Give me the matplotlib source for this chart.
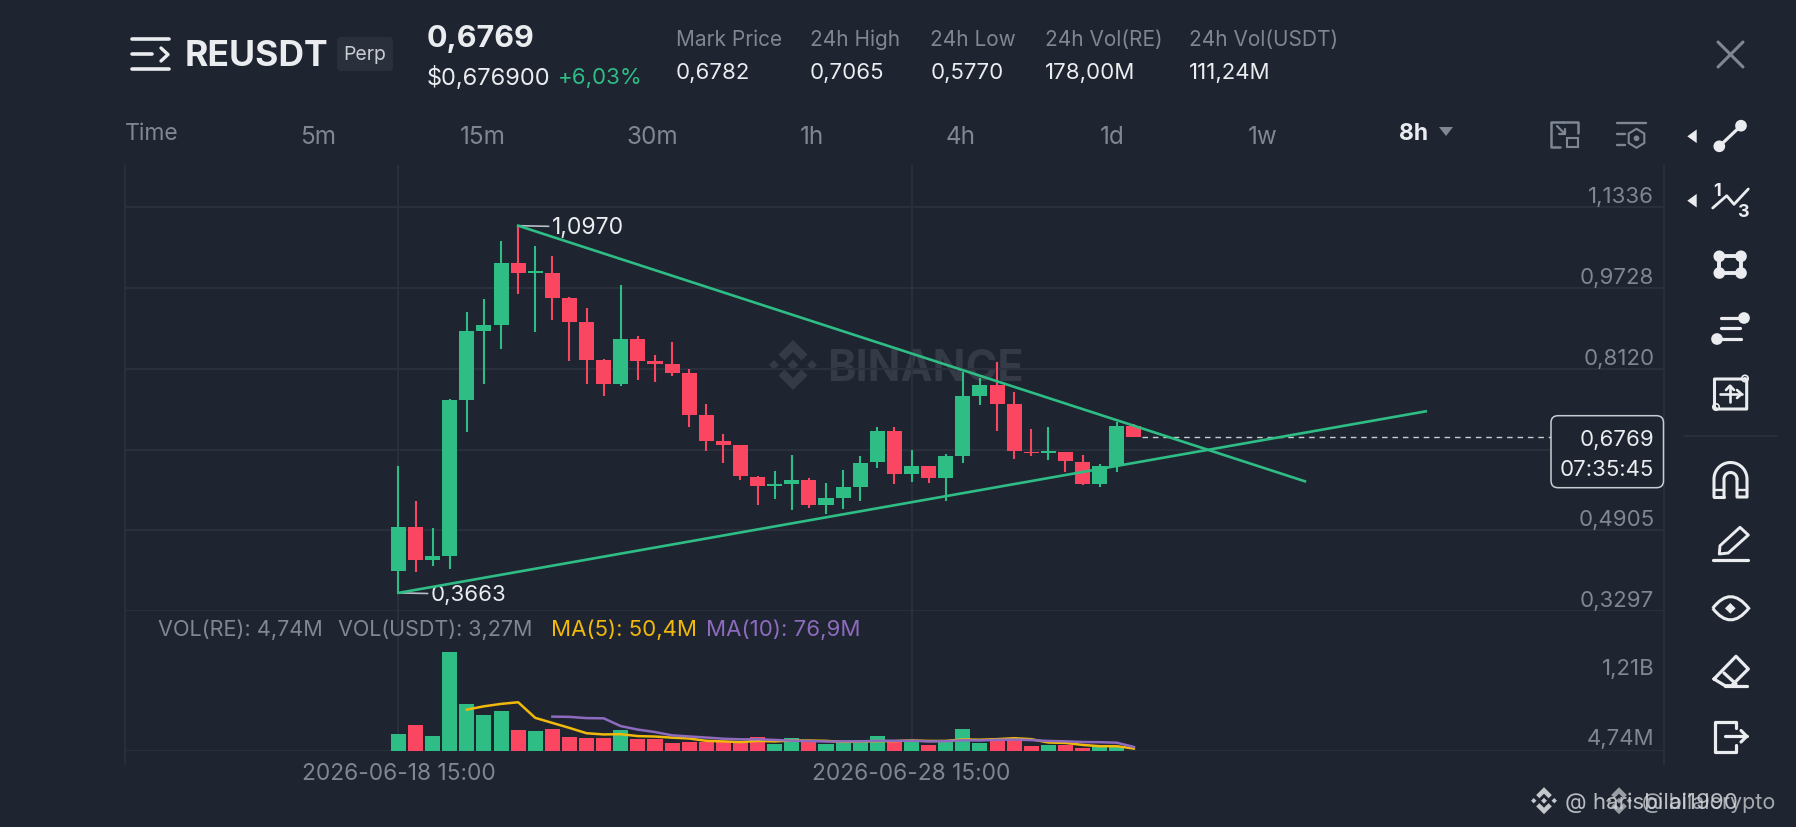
import numpy as np
import matplotlib
matplotlib.use('Agg')
import matplotlib.pyplot as plt
from matplotlib.patches import Circle, FancyBboxPatch, Polygon, Rectangle, PathPatch
from matplotlib.path import Path

plt.rcParams['font.family'] = ['Inter', 'DejaVu Sans']

# candles, 8h
opens = [0.4103, 0.4971, 0.4322, 0.4401, 0.7511, 0.8883, 0.8989, 1.0229, 1.0024, 1.0024, 0.9540,
         0.9049, 0.8300, 0.7816, 0.8711, 0.8273, 0.8220, 0.8041, 0.7212, 0.6682, 0.6602, 0.5979,
         0.5794, 0.5833, 0.5919, 0.5415, 0.5554, 0.5780, 0.6264, 0.6887, 0.6038, 0.6198, 0.5946,
         0.6396, 0.7590, 0.7795, 0.7418, 0.6476, 0.6450, 0.6469, 0.6277, 0.5826, 0.6191, 0.6993]
closes = [0.4971, 0.4322, 0.4395, 0.7511, 0.8883, 0.8989, 1.0229, 1.0024, 1.0063, 0.9540, 0.9049,
          0.8306, 0.7816, 0.8711, 0.8273, 0.8220, 0.8041, 0.7212, 0.6689, 0.6609, 0.5986, 0.5794,
          0.5833, 0.5919, 0.5415, 0.5548, 0.5773, 0.6257, 0.6887, 0.6032, 0.6198, 0.5946, 0.6390,
          0.7590, 0.7795, 0.7424, 0.6489, 0.6443, 0.6489, 0.6284, 0.5826, 0.6191, 0.6993, 0.6769]
highs = [0.6185, 0.5482, 0.4952, 0.7520, 0.9248, 0.9513, 1.0673, 1.0970, 1.0574, 1.0375, 0.9546,
         0.9327, 0.8313, 0.9791, 0.8770, 0.8399, 0.8664, 0.8127, 0.7431, 0.6828, 0.6609, 0.5986,
         0.6092, 0.6410, 0.5946, 0.5859, 0.6111, 0.6390, 0.6960, 0.6960, 0.6516, 0.6198, 0.6430,
         0.8067, 0.7935, 0.8266, 0.7669, 0.6927, 0.6960, 0.6469, 0.6416, 0.6224, 0.7073, 0.7033]
lows = [0.3663, 0.4076, 0.4189, 0.4129, 0.6861, 0.7816, 0.8518, 0.9619, 0.8850, 0.9102, 0.8273,
        0.7816, 0.7590, 0.7776, 0.7895, 0.7855, 0.7975, 0.6960, 0.6496, 0.6251, 0.5913, 0.5422,
        0.5535, 0.5322, 0.5349, 0.5236, 0.5336, 0.5482, 0.6151, 0.5833, 0.5879, 0.5846, 0.5482,
        0.6251, 0.7404, 0.6894, 0.6337, 0.6383, 0.6317, 0.6078, 0.5813, 0.5773, 0.6065, 0.6769]

# volume in millions
volumes = [289, 451, 256, 1673, 803, 619, 686, 356, 345, 373, 250, 234, 234, 362, 217, 211, 139, 167,
           167, 167, 155, 239, 128, 234, 167, 128, 155, 167, 256, 167, 183, 116, 167, 384, 139, 234,
           195, 88, 105, 105, 66, 88, 88, 4.74]
ma5 = [703, 758, 798, 826, 564, 480, 396, 307, 287, 291, 259, 252, 233, 219, 180, 170, 159, 179, 171,
       185, 185, 179, 162, 170, 175, 175, 186, 178, 178, 203, 198, 208, 224, 208, 152, 145, 112, 90,
       90, 50.4]
ma10 = [585, 581, 560, 557, 426, 368, 327, 272, 253, 235, 215, 205, 206, 195, 182, 177, 169, 171, 171,
        180, 180, 182, 170, 174, 189, 186, 197, 201, 193, 178, 172, 160, 157, 149, 76.9]

price_ticks = [1.1336, 0.9728, 0.8120, 0.6512, 0.4905, 0.3297]
price_labels = ['1,1336', '0,9728', '0,8120', '', '0,4905', '0,3297']
last_price = 0.6769
date_ticks = [0, 30]
date_labels = ['2026-06-18 15:00', '2026-06-28 15:00']

# trendlines: (candle, price)
falling = ([7, 53.0], [1.0970, 0.5884])
rising = ([0, 60.07], [0.3663, 0.7276])

BG = '#1E2530'
GRID = '#2B323E'
UP = '#2EBD85'
DOWN = '#FB4661'
GRAY = '#7F8794'
WHITE = '#EAECEF'
YELLOW = '#F0B90B'
PURPLE = '#8E6BBF'

W, H = 1796, 828
fig = plt.figure(figsize=(W / 100, H / 100), dpi=100, facecolor=BG)


def rect(left, top, right, bottom):
    return [left / W, 1 - bottom / H, (right - left) / W, (bottom - top) / H]


def pixel_axes(z):
    a = fig.add_axes([0, 0, 1, 1], zorder=z)
    a.set_xlim(0, W)
    a.set_ylim(H, 0)
    a.axis('off')
    return a


back = pixel_axes(0)
ax = fig.add_axes(rect(125, 166, 1664, 612.3), zorder=1, facecolor='none')
vol = fig.add_axes(rect(125, 612.3, 1664, 752.3), zorder=1, facecolor='none')
ui = pixel_axes(3)


def line(a, xs, ys, color=WHITE, lw=2.3, **kw):
    a.plot(xs, ys, color=color, lw=lw, solid_capstyle='round', solid_joinstyle='round', **kw)


def dot(a, x, y, r=5.0, color=WHITE, fill=True):
    a.add_patch(Circle((x, y), r, facecolor=color if fill else BG, edgecolor=color, lw=1.2))


def binance_logo(a, cx, cy, R, color):
    top = [(0, -1), (.58, -.42), (.34, -.18), (0, -.52), (-.34, -.18), (-.58, -.42)]
    for sign in (1, -1):
        a.add_patch(Polygon([(cx + p * R, cy + sign * q * R) for p, q in top], color=color, lw=0))
    for dx, r in ((0, .22), (-.76, .2), (.76, .2)):
        a.add_patch(Polygon([(cx + (dx - r) * R, cy), (cx + dx * R, cy - r * R),
                             (cx + (dx + r) * R, cy), (cx + dx * R, cy + r * R)], color=color, lw=0))


# watermark sits under the candles
binance_logo(back, 793, 366, 25, '#343B47')
back.text(925, 370, 'BINANCE', color='#343B47', fontsize=31, fontweight='bold', ha='center', va='center')

# price panel
x = np.arange(len(opens))
for i in x:
    c = UP if closes[i] >= opens[i] else DOWN
    ax.vlines(i, lows[i], highs[i], color=c, lw=1.5, zorder=3)
    ax.bar(i, abs(closes[i] - opens[i]), bottom=min(opens[i], closes[i]), width=0.88, color=c, zorder=3)
ax.plot(*falling, color=UP, lw=1.9, zorder=4)
ax.plot(*rising, color=UP, lw=1.9, zorder=4)
ax.plot([43.45, 67.65], [last_price, last_price], color='#C9CDD3', lw=1.0, dashes=(4, 3.5), zorder=3)

ax.annotate('1,0970', xy=(7, 1.0970), xytext=(24, -1), textcoords='offset points', color=WHITE, fontsize=16.5,
            va='center', arrowprops=dict(arrowstyle='-', color='#B7BDC6', lw=1.2, shrinkA=0, shrinkB=0))
ax.annotate('0,3663', xy=(0, 0.3663), xytext=(23, -1), textcoords='offset points', color=WHITE, fontsize=16,
            va='center', arrowprops=dict(arrowstyle='-', color='#B7BDC6', lw=1.2, shrinkA=0, shrinkB=0))

ax.set_xlim(-15.99, 74.0)
ax.set_ylim(0.3297, 1.2178)
ax.set_yticks(price_ticks)
ax.set_yticklabels([])
ax.set_xticks(date_ticks)
ax.set_xticklabels([])
ax.grid(True, color=GRID, lw=1.3)
ax.tick_params(length=0)
for s in ax.spines.values():
    s.set_visible(False)
for val, lab in zip(price_ticks, price_labels):
    ax.annotate(lab, xy=(1, val), xycoords=ax.get_yaxis_transform(), xytext=(-7, 8), textcoords='offset points',
                color=GRAY, fontsize=16, ha='right', va='center')

# volume panel
for i in x:
    c = UP if closes[i] >= opens[i] else DOWN
    vol.bar(i, volumes[i] - 4.74, bottom=4.74, width=0.88, color=c, zorder=3)
vol.plot(x[4:], ma5, color=YELLOW, lw=1.8, zorder=4)
vol.plot(x[9:], ma10, color=PURPLE, lw=1.8, zorder=5)
vol.set_xlim(-15.99, 74.0)
vol.set_ylim(4.74, 2348)
vol.set_xticks(date_ticks)
vol.set_xticklabels(date_labels, color=GRAY, fontsize=16.3)
vol.set_yticks([4.74])
vol.set_yticklabels([])
vol.grid(True, color=GRID, lw=1.3)
vol.tick_params(length=0, pad=8)
for s in vol.spines.values():
    s.set_visible(False)

# frame lines either side of the panels
line(back, [125, 125], [166, 765], color=GRID, lw=1.2)
line(back, [1664, 1664], [166, 765], color=GRID, lw=1.2)

ui.text(158, 630, 'VOL(RE): 4,74M', color=GRAY, fontsize=15.6, va='center')
ui.text(338, 630, 'VOL(USDT): 3,27M', color=GRAY, fontsize=15.5, va='center')
ui.text(551, 630, 'MA(5): 50,4M', color=YELLOW, fontsize=16, va='center')
ui.text(706, 630, 'MA(10): 76,9M', color=PURPLE, fontsize=16, va='center')
ui.text(1654.5, 669.5, '1,21B', color=GRAY, fontsize=16, ha='right', va='center')
ui.text(1654.5, 739.5, '4,74M', color=GRAY, fontsize=16, ha='right', va='center')

# last price tag
ui.add_patch(FancyBboxPatch((1557, 422.7), 100.5, 60, boxstyle='round,pad=6,rounding_size=7', facecolor=BG,
                            edgecolor='#C9CDD3', lw=1.1))
ui.text(1654, 440, '0,6769', color=WHITE, fontsize=16, ha='right', va='center')
ui.text(1654, 470, '07:35:45', color=WHITE, fontsize=16, ha='right', va='center')

# header
for yy, x1 in ((40, 169), (55, 152), (70, 169)):
    line(ui, [132, x1], [yy, yy], lw=2.6)
line(ui, [161, 168, 161], [49, 55.5, 62], lw=2.4)
ui.text(185, 56, 'REUSDT', color=WHITE, fontsize=25.6, fontweight='bold', va='center')
ui.add_patch(FancyBboxPatch((340, 41), 50, 28, boxstyle='round,pad=3,rounding_size=4', facecolor='#2A303B', lw=0))
ui.text(365, 55, 'Perp', color='#C9CDD3', fontsize=14, ha='center', va='center')
ui.text(427, 39, '0,6769', color=WHITE, fontsize=22, fontweight='bold', va='center')
ui.text(427, 78, '$0,676900', color=WHITE, fontsize=17, va='center')
ui.text(558, 78, '+6,03%', color=UP, fontsize=16, va='center')

stat_x = [675.5, 810, 930.5, 1045, 1189]
stat_names = ['Mark Price', '24h High', '24h Low', '24h Vol(RE)', '24h Vol(USDT)']
stat_values = ['0,6782', '0,7065', '0,5770', '178,00M', '111,24M']
for sx, n, v in zip(stat_x, stat_names, stat_values):
    ui.text(sx, 40, n, color=GRAY, fontsize=15, va='center')
    ui.text(sx, 73, v, color=WHITE, fontsize=16, va='center')

ui.text(125, 134, 'Time', color=GRAY, fontsize=16.5, va='center')
for tx, t in zip([318, 482.5, 652.5, 812, 961, 1112, 1263], ['5m', '15m', '30m', '1h', '4h', '1d', '1w']):
    ui.text(tx, 137, t, color=GRAY, fontsize=17.5, ha='center', va='center')
ui.text(1414, 134.5, '8h', color=WHITE, fontsize=16.5, fontweight='bold', ha='center', va='center')
ui.add_patch(Polygon([(1439, 128), (1453, 128), (1446, 137)], color=GRAY, lw=0))

# close button
line(ui, [1718, 1743], [43, 68], color=GRAY, lw=2.2)
line(ui, [1743, 1718], [43, 68], color=GRAY, lw=2.2)

# two small toolbar icons
line(ui, [1563, 1551, 1551, 1560], [122.5, 122.5, 148, 148], color=GRAY, lw=1.8)
line(ui, [1563, 1577.5, 1577.5], [122.5, 122.5, 134], color=GRAY, lw=1.8)
ui.add_patch(Rectangle((1567, 139), 10.5, 9, facecolor='none', edgecolor=GRAY, lw=1.5))
line(ui, [1557, 1565], [127, 135], color=GRAY, lw=1.6)
line(ui, [1565, 1565, 1559], [130, 135, 135], color=GRAY, lw=1.6)
line(ui, [1617, 1645.5], [124, 124], color=GRAY, lw=1.7)
line(ui, [1617, 1625], [135, 135], color=GRAY, lw=1.7)
line(ui, [1617, 1625], [146, 146], color=GRAY, lw=1.7)
hex_t = np.deg2rad(np.arange(30, 390, 60))
ui.add_patch(Polygon(np.c_[1636.5 + 9 * np.cos(hex_t), 139.3 + 9.5 * np.sin(hex_t)], fill=False, edgecolor=GRAY, lw=1.5))
dot(ui, 1636.5, 139.3, r=2, color=GRAY)

# drawing tools column
for ty in (137.3, 201.7):
    ui.add_patch(Polygon([(1687.3, ty), (1696.7, ty - 6.8), (1696.7, ty + 6.8)], color=WHITE, lw=0))
line(ui, [1719.3, 1741], [147.3, 126.7])
dot(ui, 1719.3, 147.3)
dot(ui, 1741, 126.7)

line(ui, [1712.7, 1726.7, 1734, 1748.3], [209, 196.7, 205.3, 190], lw=2.0)
ui.text(1717, 191, '1', color=WHITE, fontsize=13, fontweight='bold', ha='center', va='center')
ui.text(1743, 213, '3', color=WHITE, fontsize=13, fontweight='bold', ha='center', va='center')

line(ui, [1719.3, 1741, 1741, 1719.3, 1719.3], [257.3, 257.3, 274, 274, 257.3], lw=2.8)
for px, py in ((1719.3, 257.3), (1741, 257.3), (1719.3, 274), (1741, 274)):
    dot(ui, px, py)

line(ui, [1720.7, 1741.7], [319, 319])
line(ui, [1720.7, 1740], [329.3, 329.3])
line(ui, [1717, 1740.7], [340, 340])
dot(ui, 1744, 319)
dot(ui, 1717, 340)

line(ui, [1745, 1746.7, 1746.7, 1716, 1714.5, 1714.5, 1745], [380, 380, 410, 410, 408, 380, 380], lw=2.2)
dot(ui, 1745, 379.5, r=3.2, fill=False)
dot(ui, 1716, 408, r=3.2, fill=False)
line(ui, [1730, 1730], [386.7, 403], lw=1.9)
line(ui, [1720, 1741.5], [395, 395], lw=1.9)
line(ui, [1726, 1730, 1734], [391, 386.7, 391], lw=1.9)
line(ui, [1737, 1741.5, 1737], [391, 395, 399], lw=1.9)

line(ui, [1684, 1777], [436.7, 436.7], color=GRID, lw=1.2)

# magnet
arc_t = np.linspace(np.pi, 2 * np.pi, 30)
line(ui, np.r_[1714, 1730.5 + 16.5 * np.cos(arc_t), 1747, 1737, 1737],
     np.r_[498, 480 + 16.5 * np.sin(arc_t), 498, 498, 480], lw=2.2)
line(ui, np.r_[1724, 1724, 1730.5 + 6.5 * np.cos(arc_t), 1737],
     np.r_[498, 480, 480 + 6.5 * np.sin(arc_t), 480], lw=2.2)
line(ui, [1714, 1724], [491, 491], lw=1.7)
line(ui, [1737, 1747], [491, 491], lw=1.7)
line(ui, [1714, 1724], [498, 498], lw=2.2)

# pencil
ui.add_patch(Polygon([(1719.3, 555), (1720, 546.7), (1740, 528.3), (1748.3, 536), (1728.3, 554)], fill=False,
                     edgecolor=WHITE, lw=2.1, joinstyle='round'))
line(ui, [1713, 1748], [560.7, 560.7])

# eye
eye = Path([(1712.7, 609.3), (1730.5, 586), (1748.7, 609.3), (1730.5, 632.5), (1712.7, 609.3)],
           [Path.MOVETO, Path.CURVE3, Path.CURVE3, Path.CURVE3, Path.CURVE3])
ui.add_patch(PathPatch(eye, fill=False, edgecolor=WHITE, lw=2.2))
ui.add_patch(Polygon([(1725, 609.3), (1730.3, 604), (1735.6, 609.3), (1730.3, 614.6)], color=WHITE, lw=0))

# eraser
line(ui, [1714, 1736, 1748.3, 1731.5, 1725, 1714], [680, 657.3, 670, 686.7, 686.7, 680])
line(ui, [1724, 1736], [674, 685])
line(ui, [1725, 1747], [686.7, 686.7])

# exit
line(ui, [1736, 1736, 1715, 1715, 1736, 1736], [729, 722.7, 722.7, 752.7, 752.7, 746])
line(ui, [1725, 1746.7], [737.3, 737.3])
line(ui, [1741, 1746.7, 1741], [731.5, 737.3, 743])

# overlapping share watermarks, bottom right
binance_logo(ui, 1544, 801.7, 13.5, '#C4C7CC')
binance_logo(ui, 1619, 801.7, 13.5, '#9A9EA5')
ui.text(1565, 802.5, '@ harisbilal1990', color='#D4D6DA', fontsize=16, va='center', alpha=0.85)
ui.text(1641.7, 802.5, '@ bilalcrypto', color='#D4D6DA', fontsize=15.5, va='center', alpha=0.75)

fig.savefig('out.png', dpi=100, facecolor=BG)
